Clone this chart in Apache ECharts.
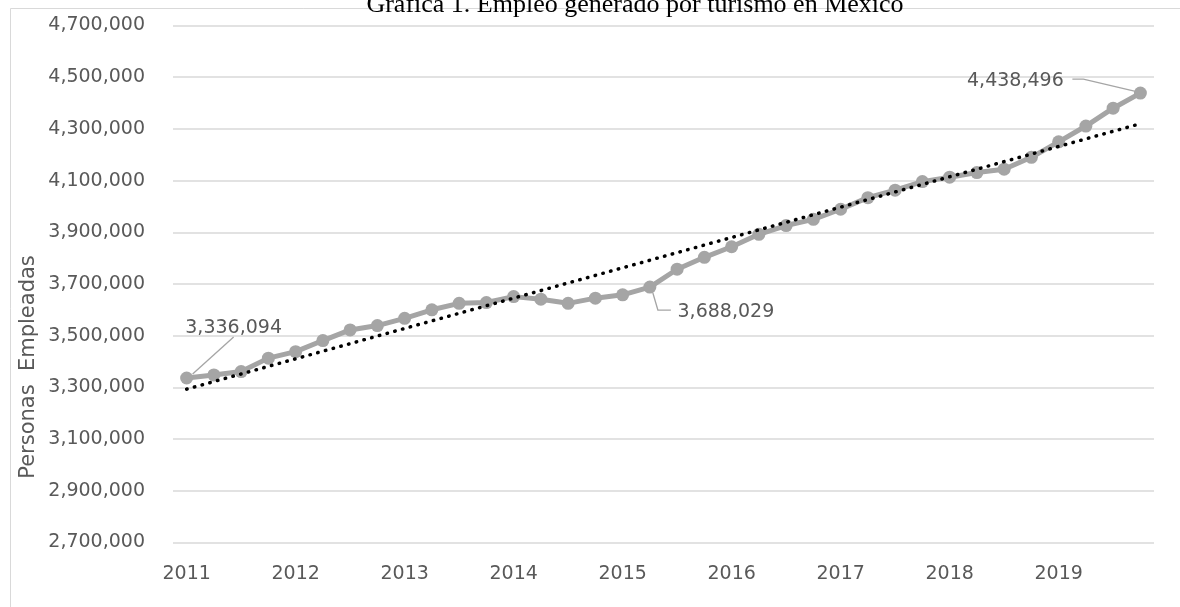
<!DOCTYPE html>
<html><head><meta charset="utf-8">
<script src="https://cdn.jsdelivr.net/npm/echarts@6/dist/echarts.min.js"></script>
<style>html,body{margin:0;padding:0;background:#fff}#c{width:1180px;height:607px}</style>
</head><body><div id="c"></div><script>
const titleText = 'Gráfica 1. Empleo generado por turismo en México';
const yAxisTitle = 'Personas  Empleadas';
const years = ['2011','2012','2013','2014','2015','2016','2017','2018','2019'];
const quarters = ['T1','T2','T3','T4'];
const categories = years.flatMap(y => quarters.map(q => y + ' ' + q));
const empleo = [
  3336094, 3348000, 3361000, 3413000, 3438000, 3481000, 3522000, 3539000, 3567000, 3600000, 3625000, 3628000,
  3651000, 3641000, 3625000, 3645000, 3658000, 3688029, 3757000, 3803000, 3844000, 3892000, 3926000, 3950000,
  3989000, 4034000, 4063000, 4096000, 4113000, 4131000, 4144000, 4190000, 4250000, 4311000, 4380000, 4438496
];
const trendStart = 3293000;
const trendEnd = 4320000;
const labeledIdx = [0, 17, 35];
const yMin = 2700000, yMax = 4700000, yStep = 200000;

const FONT = 'DejaVu Sans';
const fmt = v => Number(v).toLocaleString('en-US');
// label offsets and leader-line shapes, relative to the marker centre
const labelShift = {0: [47, -29], 17: [76, 46], 35: [-125, 9]};
const leaderShape = {
  0:  [[6, -4], [47, -41]],
  17: [[3, 6], [8, 23], [21, 23]],
  35: [[-6, -2], [-57, -14], [-68, -14]]
};

const chart = echarts.init(document.getElementById('c'), null, {renderer: 'canvas'});
const baseGraphic = [
  {type: 'rect', silent: true, z: -1, shape: {x: 10.5, y: 8.5, width: 1300, height: 800},
   style: {fill: null, stroke: '#d9d9d9', lineWidth: 1}},
  {type: 'text', silent: true, x: 635, y: 5,
   style: {text: titleText, font: '26px "Liberation Serif"', fill: '#000', textAlign: 'center', textVerticalAlign: 'middle'}},
  {type: 'text', silent: true, x: 29, y: 367, rotation: Math.PI / 2,
   style: {text: yAxisTitle, font: '21px "DejaVu Sans"', fill: '#595959', textAlign: 'center', textVerticalAlign: 'middle'}}
];
chart.setOption({
  backgroundColor: '#fff',
  animation: false,
  grid: {left: 173, right: 26, top: 25.5, bottom: 64.6, containLabel: false},
  xAxis: {
    type: 'category',
    data: categories,
    boundaryGap: true,
    axisLine: {show: false},
    axisTick: {show: false},
    axisLabel: {
      interval: 3, margin: 22, color: '#595959', fontFamily: FONT, fontSize: 19,
      formatter: v => v.split(' ')[0]
    },
    splitLine: {show: false}
  },
  yAxis: {
    type: 'value', min: yMin, max: yMax, interval: yStep,
    axisLine: {show: false}, axisTick: {show: false},
    axisLabel: {margin: 28, color: '#595959', fontFamily: FONT, fontSize: 19, formatter: fmt},
    splitLine: {show: true, lineStyle: {color: '#d9d9d9', width: 1.5}}
  },
  graphic: baseGraphic,
  series: [
    {
      type: 'line',
      data: empleo.map((v, i) => labeledIdx.includes(i) ? {value: v, label: {show: true}} : v),
      symbol: 'circle', symbolSize: 13,
      lineStyle: {color: '#a5a5a5', width: 5},
      itemStyle: {color: '#a5a5a5'},
      label: {show: false, position: 'top', color: '#595959', fontFamily: FONT, fontSize: 19,
              formatter: p => fmt(p.value)},
      labelLayout: p => {
        const d = labelShift[p.dataIndex];
        return d ? {dx: d[0], dy: d[1]} : {};
      },
      z: 2
    },
    {
      type: 'line',
      data: [[0, trendStart], [categories.length - 1, trendEnd]],
      symbol: 'none',
      lineStyle: {color: '#000', width: 3.5, type: [0.5, 7.5], cap: 'round'},
      z: 3
    }
  ]
});
// leader lines anchored on the markers' pixel positions from the chart's own scales
const leaders = labeledIdx.map(i => {
  const c = chart.convertToPixel({seriesIndex: 0}, [i, empleo[i]]);
  return {
    type: 'polyline', silent: true, z: 1,
    shape: {points: leaderShape[i].map(q => [c[0] + q[0], c[1] + q[1]])},
    style: {stroke: '#a5a5a5', lineWidth: 1.3, fill: null}
  };
});
chart.setOption({graphic: baseGraphic.concat(leaders)});
</script></body></html>
